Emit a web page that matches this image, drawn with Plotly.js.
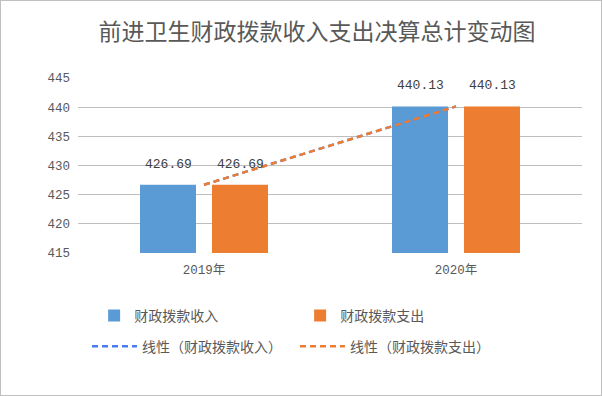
<!DOCTYPE html>
<html><head><meta charset="utf-8">
<script src="https://cdn.plot.ly/plotly-3.0.1.min.js"></script>
<style>html,body{margin:0;padding:0;background:#fff}#c{width:600px;height:394px;border:1px solid #c0c0c0}</style>
</head><body><div id="c"></div>
<script>
const categories = ['2019年', '2020年'];
const income = [426.69, 440.13];
const expense = [426.69, 440.13];
const yTicks = [415, 420, 425, 430, 435, 440, 445];

function linearFit(vals) {
  const n = vals.length, xs = vals.map((_, i) => i + 1);
  const mx = xs.reduce((a, b) => a + b, 0) / n, my = vals.reduce((a, b) => a + b, 0) / n;
  let sxy = 0, sxx = 0;
  xs.forEach((x, i) => { sxy += (x - mx) * (vals[i] - my); sxx += (x - mx) * (x - mx); });
  const k = sxy / sxx, b = my - k * mx;
  return xs.map(x => k * x + b);
}

const mono = 'Liberation Mono, Noto Sans CJK SC, monospace';
const cjk = 'Noto Sans CJK SC, sans-serif';
const grey = '#595959';

const traces = [
  {type: 'bar', name: '财政拨款收入', x: categories, y: income, marker: {color: '#5B9BD5'},
   legend: 'legend', hoverinfo: 'none'},
  {type: 'bar', name: '财政拨款支出', x: categories, y: expense, marker: {color: '#ED7D31'},
   legend: 'legend', hoverinfo: 'none'},
  {type: 'scatter', mode: 'lines', name: '线性（财政拨款收入）', x: categories, y: linearFit(income),
   line: {color: '#4A7BF0', width: 2.5, dash: '6px,4px'}, legend: 'legend2', hoverinfo: 'none'},
  {type: 'scatter', mode: 'lines', name: '线性（财政拨款支出）', x: categories, y: linearFit(expense),
   line: {color: '#ED7D31', width: 2.5, dash: '6px,4px'}, legend: 'legend2', hoverinfo: 'none'}
];

const labelFont = {family: mono, size: 13, color: '#404040'};
const annotations = [];
categories.forEach((c, i) => {
  annotations.push({x: c, y: income[i], xref: 'x', yref: 'y', text: income[i].toFixed(2), showarrow: false,
    xshift: -36, yshift: 11, yanchor: 'bottom', font: labelFont});
  annotations.push({x: c, y: expense[i], xref: 'x', yref: 'y', text: expense[i].toFixed(2), showarrow: false,
    xshift: 36, yshift: 11, yanchor: 'bottom', font: labelFont});
});

const legendCommon = {orientation: 'h', xanchor: 'left', yanchor: 'middle', entrywidthmode: 'pixels',
  font: {family: cjk, size: 14, color: grey}, bgcolor: 'rgba(0,0,0,0)', itemclick: false, traceorder: 'normal'};

const layout = {
  width: 600, height: 394,
  margin: {l: 77, r: 19, t: 77, b: 142},
  paper_bgcolor: '#fff', plot_bgcolor: '#fff',
  title: {text: '前进卫生财政拨款收入支出决算总计变动图', x: 316 / 600, xanchor: 'center', xref: 'container',
    y: 1 - 31 / 394, yanchor: 'middle', font: {family: cjk, size: 23, color: grey}},
  barmode: 'group', bargap: 0.4286, bargroupgap: 0.222,
  showlegend: true,
  annotations: annotations,
  legend: Object.assign({}, legendCommon, {x: 0.032, y: -0.36, entrywidth: 161}),
  legend2: Object.assign({}, legendCommon, {x: 0.0179, y: -0.535, entrywidth: 148, itemwidth: 45}),
  xaxis: {type: 'category', showgrid: false, zeroline: false, showline: false, ticks: '',
    ticklabelstandoff: 7, tickfont: {family: mono, size: 12.5, color: grey}, fixedrange: true},
  yaxis: {range: [yTicks[0], yTicks[yTicks.length - 1]], tickvals: yTicks, ticktext: yTicks.map(String),
    showgrid: true, gridcolor: '#bfbfbf', gridwidth: 1, zeroline: false, showline: false, ticks: '',
    ticklabelstandoff: 7, tickfont: {family: mono, size: 12.5, color: grey}, fixedrange: true}
};

Plotly.newPlot('c', traces, layout, {displayModeBar: false, staticPlot: true});
</script></body></html>
